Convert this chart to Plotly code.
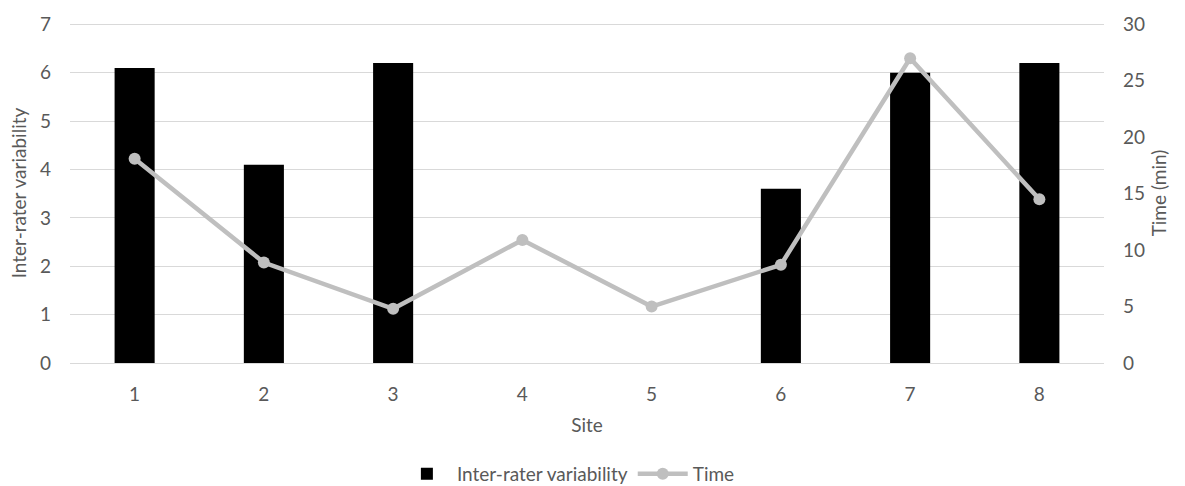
import plotly.graph_objects as go

sites = ["1", "2", "3", "4", "5", "6", "7", "8"]
inter_rater = [6.1, 4.1, 6.2, 0, 0, 3.6, 6.0, 6.2]
time_min = [18.1, 8.9, 4.8, 10.9, 5.0, 8.7, 27.0, 14.5]
left_ticks = [0, 1, 2, 3, 4, 5, 6, 7]
right_ticks = [0, 5, 10, 15, 20, 25, 30]

font_family = "Lato"
txt = "#595959"
fs = 19
pad = 1.004

fig = go.Figure()
fig.add_trace(go.Bar(
    x=sites, y=inter_rater, name="Inter-rater variability",
    marker=dict(color="#000000", line=dict(width=0)),
    width=0.31, yaxis="y",
))
fig.add_trace(go.Scatter(
    x=sites, y=time_min, name="Time", mode="lines+markers",
    line=dict(color="#bfbfbf", width=4.5),
    marker=dict(color="#bfbfbf", size=12),
    yaxis="y2",
))

fig.update_layout(
    width=1185, height=486,
    margin=dict(l=70, r=81, t=18, b=123),
    paper_bgcolor="white", plot_bgcolor="white",
    font=dict(family=font_family, size=fs, color=txt),
    showlegend=True,
    legend=dict(orientation="h", x=0.482, xanchor="center", yref="container",
                y=0.025, yanchor="middle", font=dict(size=fs, color=txt),
                itemwidth=50, tracegroupgap=0),
    xaxis=dict(
        type="category", showgrid=False, zeroline=False, showline=False,
        ticks="", ticklabelstandoff=18, tickfont=dict(size=fs, color=txt),
        title=dict(text="Site", font=dict(size=fs, color=txt), standoff=14),
    ),
    yaxis=dict(
        range=[0, 7 * pad], tickvals=left_ticks, showgrid=True, gridcolor="#d9d9d9",
        gridwidth=1, zeroline=True, zerolinecolor="#d9d9d9", zerolinewidth=1,
        showline=False, ticks="", ticklabelstandoff=18,
        tickfont=dict(size=fs, color=txt),
        title=dict(text="Inter-rater variability", font=dict(size=fs, color=txt), standoff=8),
    ),
    yaxis2=dict(
        range=[0, 30 * pad], tickvals=right_ticks, overlaying="y", side="right",
        showgrid=False, zeroline=False, showline=False, ticks="",
        ticklabelstandoff=18, tickfont=dict(size=fs, color=txt),
        title=dict(text="Time (min)", font=dict(size=fs, color=txt), standoff=8),
    ),
)

fig.write_html("out.html")
